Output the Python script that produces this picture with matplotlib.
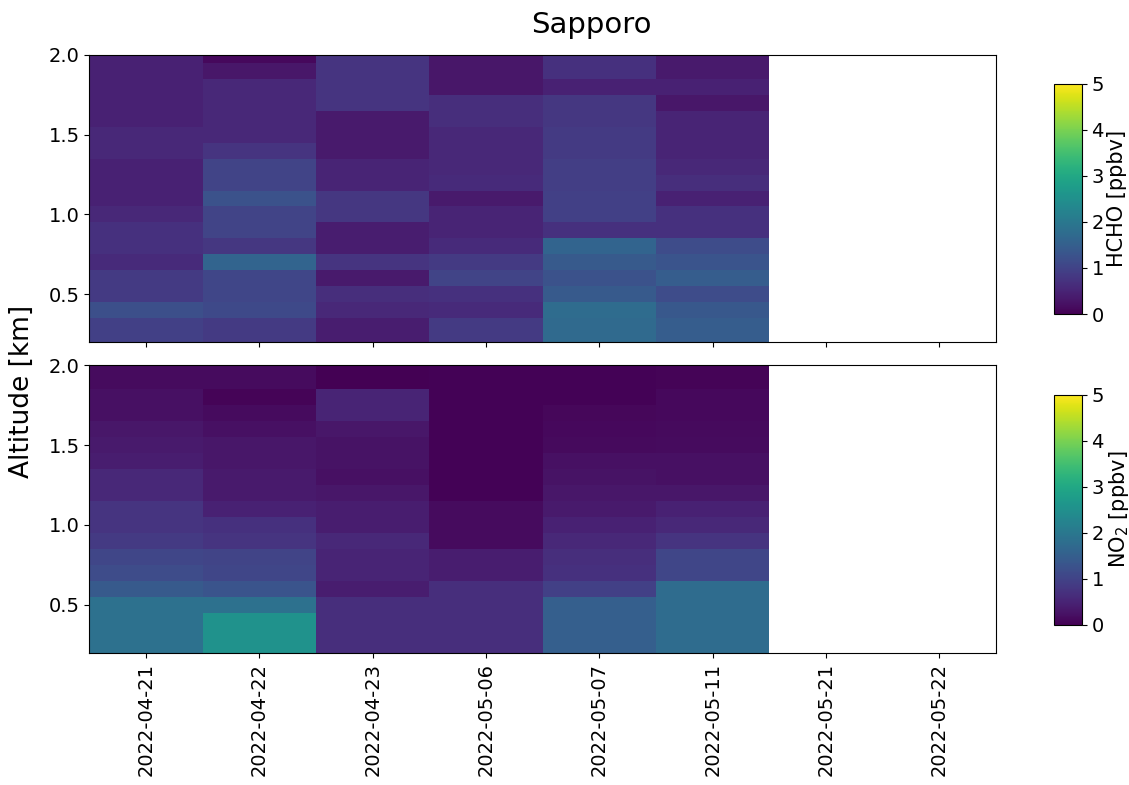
import numpy as np
import matplotlib
matplotlib.use("Agg")
import matplotlib.pyplot as plt

# Launch dates (categorical x axis)
dates = ["2022-04-21", "2022-04-22", "2022-04-23", "2022-05-06",
         "2022-05-07", "2022-05-11", "2022-05-21", "2022-05-22"]

# Altitude bin centres, km (top to bottom order in the lists below)
altitudes = [2.0, 1.9, 1.8, 1.7, 1.6, 1.5, 1.4, 1.3, 1.2, 1.1,
             1.0, 0.9, 0.8, 0.7, 0.6, 0.5, 0.4, 0.3, 0.2]

nan = np.nan

# HCHO profiles [ppbv], one list per date, from 2.0 km down to 0.2 km
hcho_0421 = [0.45, 0.45, 0.45, 0.45, 0.45, 0.55, 0.55, 0.45, 0.45, 0.45,
             0.55, 0.7, 0.7, 0.6, 0.85, 0.85, 1.2, 0.95, 0.95]
hcho_0422 = [0.1, 0.3, 0.55, 0.55, 0.55, 0.55, 0.75, 1.0, 1.0, 1.25,
             1.0, 1.0, 0.8, 1.6, 1.05, 1.05, 1.1, 0.85, 0.85]
hcho_0423 = [0.75, 0.75, 0.75, 0.75, 0.35, 0.35, 0.35, 0.5, 0.5, 0.8,
             0.8, 0.4, 0.4, 0.75, 0.35, 0.65, 0.55, 0.4, 0.4]
hcho_0506 = [0.3, 0.3, 0.3, 0.65, 0.65, 0.55, 0.55, 0.55, 0.6, 0.35,
             0.5, 0.5, 0.6, 0.85, 1.0, 0.7, 0.6, 0.85, 0.85]
hcho_0507 = [0.7, 0.7, 0.45, 0.8, 0.8, 0.85, 0.85, 0.9, 0.9, 0.95,
             0.95, 0.7, 1.6, 1.4, 1.25, 1.4, 1.75, 1.7, 1.7]
hcho_0511 = [0.35, 0.35, 0.45, 0.3, 0.5, 0.5, 0.5, 0.55, 0.65, 0.45,
             0.7, 0.7, 1.15, 1.3, 1.45, 1.15, 1.35, 1.45, 1.45]
hcho_0521 = [nan] * 19
hcho_0522 = [nan] * 19

# NO2 profiles [ppbv], one list per date, from 2.0 km down to 0.2 km
no2_0421 = [0.15, 0.15, 0.2, 0.2, 0.3, 0.35, 0.4, 0.55, 0.55, 0.75,
            0.75, 0.85, 1.05, 1.15, 1.4, 1.85, 1.85, 1.85, 1.85]
no2_0422 = [0.15, 0.15, 0.05, 0.15, 0.2, 0.3, 0.3, 0.35, 0.35, 0.45,
            0.7, 0.75, 1.0, 1.05, 1.3, 1.85, 2.55, 2.55, 2.55]
no2_0423 = [0.0, 0.0, 0.5, 0.5, 0.3, 0.25, 0.25, 0.2, 0.3, 0.4,
            0.4, 0.55, 0.5, 0.5, 0.4, 0.65, 0.65, 0.65, 0.65]
no2_0506 = [0.02, 0.02, 0.02, 0.02, 0.02, 0.02, 0.02, 0.02, 0.02, 0.15,
            0.15, 0.15, 0.4, 0.4, 0.65, 0.65, 0.65, 0.65, 0.65]
no2_0507 = [0.02, 0.02, 0.02, 0.08, 0.1, 0.12, 0.2, 0.25, 0.3, 0.35,
            0.45, 0.55, 0.65, 0.7, 0.95, 1.5, 1.5, 1.5, 1.5]
no2_0511 = [0.05, 0.05, 0.1, 0.1, 0.12, 0.15, 0.2, 0.2, 0.3, 0.45,
            0.55, 0.75, 1.05, 1.05, 1.75, 1.75, 1.75, 1.75, 1.75]
no2_0521 = [nan] * 19
no2_0522 = [nan] * 19

hcho = np.array([hcho_0421, hcho_0422, hcho_0423, hcho_0506,
                 hcho_0507, hcho_0511, hcho_0521, hcho_0522]).T
no2 = np.array([no2_0421, no2_0422, no2_0423, no2_0506,
                no2_0507, no2_0511, no2_0521, no2_0522]).T

W, H = 1129, 785
fig = plt.figure(figsize=(W / 100, H / 100), dpi=100)


def frac(x0, y0, x1, y1):
    return [x0 / W, 1 - y1 / H, (x1 - x0) / W, (y1 - y0) / H]


ax1 = fig.add_axes(frac(89.3, 55, 996, 342))
ax2 = fig.add_axes(frac(89.3, 365, 996, 653))
cax1 = fig.add_axes(frac(1054.3, 83.5, 1081.7, 314))
cax2 = fig.add_axes(frac(1054.3, 394.5, 1081.7, 624.5))

x = np.arange(len(dates))
y = np.array(altitudes)

panels = [(ax1, cax1, hcho, "HCHO [ppbv]"),
          (ax2, cax2, no2, "NO$_2$ [ppbv]")]

for ax, cax, data, label in panels:
    mesh = ax.pcolormesh(x, y, np.ma.masked_invalid(data), cmap="viridis",
                         vmin=0, vmax=5, shading="nearest")
    ax.set_xlim(-0.5, len(dates) - 0.5)
    ax.set_ylim(0.2, 2.0)
    ax.set_yticks([0.5, 1.0, 1.5, 2.0])
    ax.set_xticks(x)
    ax.tick_params(labelsize=14)
    cb = fig.colorbar(mesh, cax=cax)
    cb.set_ticks([0, 1, 2, 3, 4, 5])
    cb.ax.tick_params(labelsize=14)
    cb.set_label(label, fontsize=15, labelpad=2)

ax1.set_xticklabels([])
ax2.set_xticklabels(dates, rotation=90)

fig.text(591.7 / W, 1 - 25 / H, "Sapporo", ha="center", va="center", fontsize=21)
fig.text(22 / W, 1 - 391.5 / H, "Altitude [km]", ha="center", va="center",
         rotation=90, fontsize=19)

fig.savefig("out.png", dpi=100)
